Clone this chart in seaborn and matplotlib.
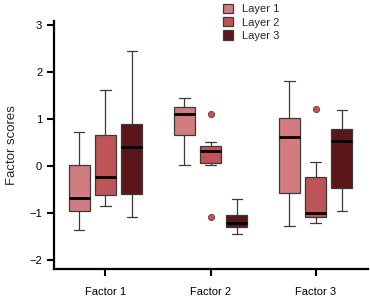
import pandas as pd
from matplotlib import pyplot as plt
import seaborn as sns

# data: small sets that give the box statistics
factors = ['Factor 1', 'Factor 2', 'Factor 3']
layers = ['Layer 1', 'Layer 2', 'Layer 3']

f1_l1 = [-1.36, -0.96, -0.68, 0.02, 0.72]
f1_l2 = [-0.85, -0.62, -0.23, 0.66, 1.62]
f1_l3 = [-1.08, -0.60, 0.40, 0.88, 2.45]

f2_l1 = [0.02, 0.66, 1.10, 1.26, 1.45]
f2_l2 = [-1.09, 0.02, 0.07, 0.20, 0.32, 0.38, 0.43, 0.51, 1.10]
f2_l3 = [-1.45, -1.30, -1.21, -1.04, -0.70]

f3_l1 = [-1.28, -0.58, 0.62, 1.02, 1.81]
f3_l2 = [-1.21, -1.15, -1.08, -1.04, -1.00, -0.60, -0.23, 0.09, 1.21]
f3_l3 = [-0.96, -0.47, 0.54, 0.79, 1.19]

groups = {
    ('Factor 1', 'Layer 1'): f1_l1, ('Factor 1', 'Layer 2'): f1_l2, ('Factor 1', 'Layer 3'): f1_l3,
    ('Factor 2', 'Layer 1'): f2_l1, ('Factor 2', 'Layer 2'): f2_l2, ('Factor 2', 'Layer 3'): f2_l3,
    ('Factor 3', 'Layer 1'): f3_l1, ('Factor 3', 'Layer 2'): f3_l2, ('Factor 3', 'Layer 3'): f3_l3,
}
rows = []
for (f, l), vals in groups.items():
    for v in vals:
        rows.append({'factor': f, 'layer': l, 'score': v})
df = pd.DataFrame(rows)

colors = ['#D17C80', '#BD5558', '#5A1619']

sns.set_style('white')
plt.rcParams['font.family'] = ['Liberation Sans', 'DejaVu Sans']

fig = plt.figure(figsize=(3.7, 2.98), dpi=100)
ax = fig.add_axes([0.146, 0.097, 0.849, 0.833])

sns.boxplot(data=df, x='factor', y='score', hue='layer', order=factors, hue_order=layers,
            palette=colors, width=0.75, gap=0.2, linewidth=0.9, linecolor='#3a3a3a',
            whis=1.5, saturation=1,
            medianprops=dict(color='black', linewidth=2),
            flierprops=dict(marker='o', markerfacecolor='#BD5558', markeredgecolor='#6a3a3a',
                            markersize=4.5, markeredgewidth=0.6),
            ax=ax)

ax.set_xlim(-0.49, 2.5)
ax.set_ylim(-2.19, 3.08)
ax.set_yticks([-2, -1, 0, 1, 2, 3])
ax.set_xlabel('')
ax.set_ylabel('Factor scores', fontsize=9.5, labelpad=8)
ax.tick_params(axis='both', labelsize=8, length=5, width=1.5, direction='out', colors='black')
ax.tick_params(axis='y', left=True)
ax.tick_params(axis='x', bottom=True, pad=8)
for s in ['top', 'right']:
    ax.spines[s].set_visible(False)
for s in ['left', 'bottom']:
    ax.spines[s].set_linewidth(1.6)
    ax.spines[s].set_color('black')

handles, labels = ax.get_legend_handles_labels()
ax.get_legend().remove()
fig.legend(handles, labels, loc='upper left', bbox_to_anchor=(0.575, 1.02), frameon=False,
           fontsize=8, handlelength=0.9, handleheight=0.9, labelspacing=0.25, handletextpad=0.8)

fig.savefig('out.png', dpi=100)
